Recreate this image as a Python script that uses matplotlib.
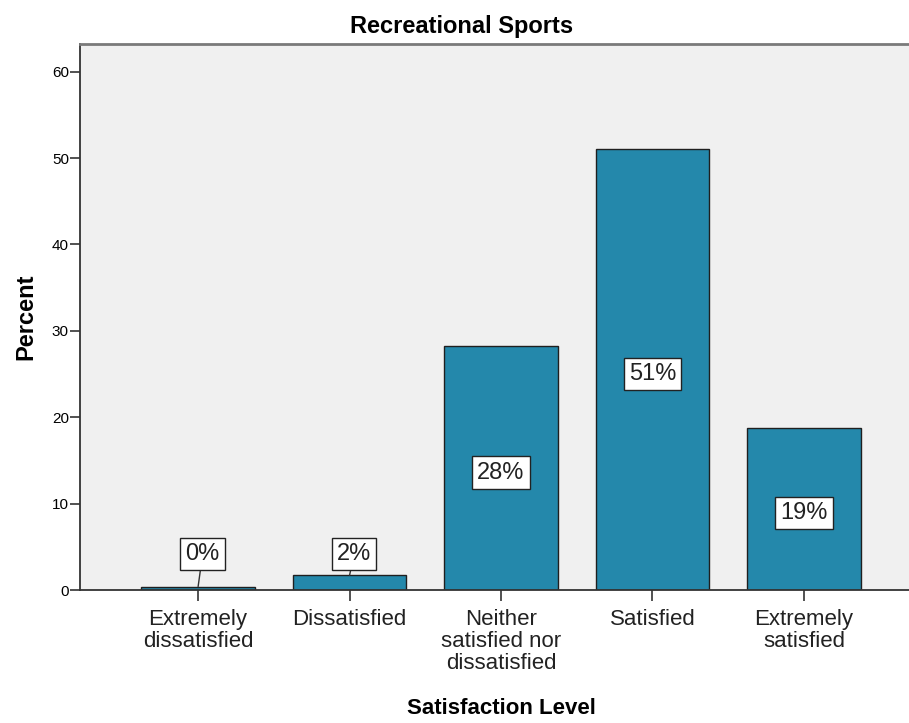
import matplotlib.pyplot as plt

# survey data
categories = ["Extremely\ndissatisfied", "Dissatisfied", "Neither\nsatisfied nor\ndissatisfied",
              "Satisfied", "Extremely\nsatisfied"]
percent = [0.4, 1.7, 28.2, 51.0, 18.8]
labels = ["0%", "2%", "28%", "51%", "19%"]

plt.rcParams['font.family'] = ['Liberation Sans', 'DejaVu Sans']

fig = plt.figure(figsize=(9.09, 7.23), dpi=100)
ax = fig.add_axes([80 / 909, 1 - 590 / 723, (922 - 80) / 909, (590 - 44) / 723])
ax.set_facecolor('#F0F0F0')

x = list(range(len(categories)))
ax.bar(x, percent, width=0.75, color='#2488AB', edgecolor='#1f1f1f', linewidth=1.0, zorder=2)

ax.set_xlim(-0.78, 4.78)
ax.set_ylim(0, 63.2)
ax.set_yticks([0, 10, 20, 30, 40, 50, 60])
ax.set_xticks(x)
ax.set_xticklabels(categories, fontsize=16, linespacing=1.05, color='#222222')
ax.tick_params(axis='x', length=8, width=1.2, color='#333333', pad=6)
ax.tick_params(axis='y', length=7, width=1.2, color='#333333', labelsize=11, pad=1)

for side in ['left', 'bottom']:
    ax.spines[side].set_color('#333333')
    ax.spines[side].set_linewidth(1.3)
ax.spines['top'].set_color('#7a7a7a')
ax.spines['top'].set_linewidth(2)
ax.spines['right'].set_visible(False)

box = dict(boxstyle='square,pad=0.22', facecolor='white', edgecolor='#222222', linewidth=1)
for i, (v, t) in enumerate(zip(percent, labels)):
    if v < 5:
        ax.annotate(t, xy=(i, v), xytext=(i + 0.03, 4.2), ha='center', va='center',
                    fontsize=17, color='#222222', bbox=box, zorder=3,
                    arrowprops=dict(arrowstyle='-', color='#333333', lw=1, shrinkA=0, shrinkB=0))
    else:
        ax.text(i, v / 2 - 0.5, t, ha='center', va='center', fontsize=17,
                color='#222222', bbox=box, zorder=3)

ax.set_ylabel("Percent", fontsize=17, fontweight='bold')
ax.yaxis.set_label_coords(-0.051, 0.5)
fig.text(501 / 909, 1 - 709 / 723, "Satisfaction Level", ha='center', va='center',
         fontsize=16, fontweight='bold')
fig.text(462 / 909, 1 - 27 / 723, "Recreational Sports", ha='center', va='center',
         fontsize=17, fontweight='bold')

fig.savefig("out.png", dpi=100)
